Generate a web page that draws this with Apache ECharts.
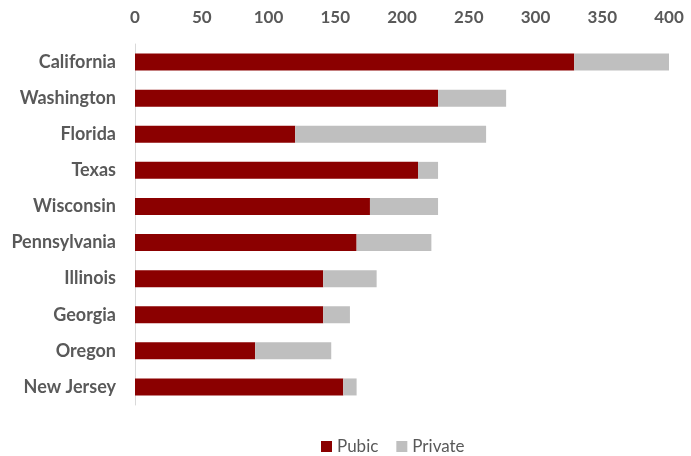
<!DOCTYPE html>
<html>
<head>
<meta charset="utf-8">
<script src="https://cdn.jsdelivr.net/npm/echarts@6/dist/echarts.min.js"></script>
<style>
  html, body { margin: 0; padding: 0; background: #fff; }
  #main { width: 691px; height: 456px; }
</style>
</head>
<body>
<div id="main"></div>
<script>
// states, top to bottom
const states = ["California", "Washington", "Florida", "Texas", "Wisconsin",
  "Pennsylvania", "Illinois", "Georgia", "Oregon", "New Jersey"];
const publicVals = [329, 227, 120, 212, 176, 166, 141, 141, 90, 156];
const privateVals = [71, 51, 143, 15, 51, 56, 40, 20, 57, 10];
const xTicks = [0, 50, 100, 150, 200, 250, 300, 350, 400];

const chart = echarts.init(document.getElementById("main"));
const font = "Lato, 'Open Sans', sans-serif";

chart.setOption({
  animation: false,
  textStyle: { fontFamily: font },
  grid: { left: 135, right: 22, top: 44, bottom: 51 },
  legend: {
    bottom: -4,
    left: 316,
    itemWidth: 11,
    itemHeight: 11,
    itemGap: 18,
    icon: "rect",
    textStyle: { color: "#595959", fontSize: 17, fontFamily: font },
    data: ["Pubic", "Private"]
  },
  xAxis: {
    type: "value",
    position: "top",
    min: xTicks[0],
    max: xTicks[xTicks.length - 1],
    interval: 50,
    axisLine: { show: false },
    axisTick: { show: false },
    splitLine: { show: false },
    axisLabel: { color: "#595959", fontSize: 17, fontWeight: "bold", margin: 18, fontFamily: font }
  },
  yAxis: {
    type: "category",
    inverse: true,
    data: states,
    axisLine: { show: true, lineStyle: { color: "#d9d9d9", width: 1 } },
    axisTick: { show: false },
    axisLabel: { color: "#595959", fontSize: 18, fontWeight: "bold", margin: 19, fontFamily: font }
  },
  series: [
    {
      name: "Pubic",
      type: "bar",
      stack: "total",
      barWidth: 17,
      data: publicVals,
      itemStyle: { color: "#8b0000" }
    },
    {
      name: "Private",
      type: "bar",
      stack: "total",
      barWidth: 17,
      data: privateVals,
      itemStyle: { color: "#bfbfbf" }
    }
  ]
});
</script>
</body>
</html>
